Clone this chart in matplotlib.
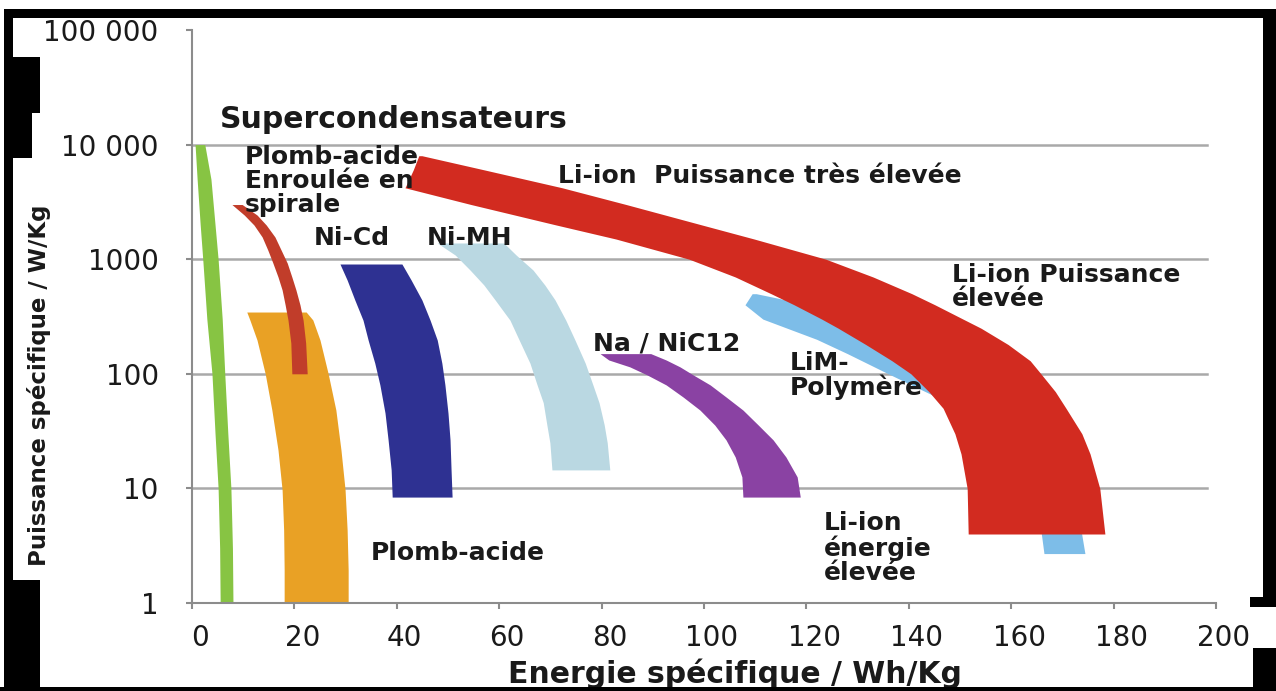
import matplotlib
matplotlib.use("Agg")
import matplotlib.pyplot as plt
from matplotlib.patches import Rectangle
from matplotlib.ticker import NullLocator
from matplotlib.transforms import ScaledTranslation

W, H = 1276, 691

# Ragone bands: power levels (W/kg) and the low / high energy edge (Wh/kg) at each level
supercap_p = [10000, 5000, 2000, 1000, 300, 100, 30, 10, 3, 1]
supercap_lo = [0.6, 1.0, 1.6, 2.1, 2.9, 3.9, 4.5, 5.1, 5.4, 5.5]
supercap_hi = [2.5, 3.7, 4.5, 5.1, 5.9, 6.4, 7.0, 7.6, 7.9, 8.0]

spiral_p = [3000, 2430, 1988, 1563, 1203, 926, 700, 539, 398, 294, 186, 100]
spiral_lo = [7.8, 10.2, 12.1, 13.7, 14.8, 15.8, 16.8, 17.6, 18.2, 18.75, 19.3, 19.5]
spiral_hi = [9.8, 12.7, 14.5, 16.2, 17.4, 18.6, 19.5, 20.3, 21.1, 21.7, 22.2, 22.5]

lead_p = [346, 295, 197, 100, 48.3, 21.6, 9.7, 4.34, 1.94, 1]
lead_lo = [10.7, 11.3, 12.7, 14.3, 15.6, 16.8, 17.6, 17.9, 18.0, 18.0]
lead_hi = [22.3, 23.6, 25.0, 26.6, 28.1, 29.1, 29.9, 30.3, 30.5, 30.5]

nicd_p = [908, 658, 441, 294, 197, 124, 80, 45.5, 26.5, 14.5, 8.4]
nicd_lo = [28.9, 30.3, 31.8, 33.4, 34.4, 35.7, 36.7, 37.7, 38.3, 38.9, 39.1]
nicd_hi = [41.0, 42.8, 44.9, 46.5, 47.9, 48.8, 49.4, 50.0, 50.4, 50.6, 50.8]

nimh_p = [1385, 1088, 805, 596, 441, 294, 197, 124, 80, 56, 36, 25, 14.5]
nimh_lo = [47.9, 51.4, 54.3, 57.0, 59.2, 62.1, 63.9, 66.0, 67.4, 68.6, 69.3, 69.9, 70.3]
nimh_hi = [60.9, 63.3, 66.6, 68.9, 70.9, 73.0, 74.8, 76.8, 78.3, 79.5, 80.5, 81.1, 81.6]

nanicl_p = [150, 132, 115, 97.7, 80, 62.8, 48.3, 35.7, 26.5, 18.8, 12.6, 8.4]
nanicl_lo = [79.7, 81.4, 85.5, 88.9, 92.6, 95.9, 99.2, 102.1, 104.3, 106.1, 107.4, 107.6]
nanicl_hi = [89.6, 92.6, 95.3, 97.9, 101.2, 104.3, 107.6, 110.6, 113.5, 116.0, 118.2, 118.8]

limpoly_p = [500, 400, 300, 200, 150, 100, 50, 20, 10, 5, 2.7]
limpoly_lo = [109.4, 108.0, 111.5, 122.0, 128.0, 136.0, 150.0, 157.8, 162.7, 165.6, 166.4]
limpoly_hi = [110.2, 120.7, 128.3, 137.7, 143.0, 148.0, 157.8, 165.6, 170.5, 173.4, 174.4]

liion_p = [8000, 6000, 4200, 3000, 2000, 1500, 1000, 700, 500, 400, 300, 250, 180, 130,
           100, 70, 50, 30, 20, 10, 4]
liion_lo = [44.3, 43.2, 41.6, 54.5, 70.9, 82.8, 97.1, 106.1, 113.1, 117.6, 123.0, 126.2,
            131.6, 136.7, 140.4, 143.9, 146.7, 149.0, 150.2, 151.4, 151.6]
liion_hi = [44.9, 57.2, 72.3, 84.8, 99.4, 109.8, 123.8, 133.0, 140.6, 145.1, 150.6, 154.1,
            159.4, 163.7, 165.8, 168.6, 170.7, 173.8, 175.4, 177.3, 178.3]

x_ticks = list(range(0, 201, 20))
y_ticks = [1, 10, 100, 1000, 10000, 100000]
y_tick_labels = ["1", "10", "100", "1000", "10 000", "100 000"]

bands = [
    (supercap_p, supercap_lo, supercap_hi, "#87c443"),
    (lead_p, lead_lo, lead_hi, "#e9a125"),
    (spiral_p, spiral_lo, spiral_hi, "#c13d2a"),
    (nicd_p, nicd_lo, nicd_hi, "#2e3192"),
    (nimh_p, nimh_lo, nimh_hi, "#bad8e2"),
    (nanicl_p, nanicl_lo, nanicl_hi, "#8a42a3"),
    (limpoly_p, limpoly_lo, limpoly_hi, "#7dbde8"),
    (liion_p, liion_lo, liion_hi, "#d22b20"),
]

fig = plt.figure(figsize=(W / 100, H / 100), dpi=100)
fig.patch.set_facecolor("white")
ax = fig.add_axes([192 / W, 1 - 603 / H, 1024 / W, 573 / H])
ax.set_yscale("log")
ax.set_xlim(0, 200)
ax.set_ylim(1, 100000)

for i, (p, lo, hi, color) in enumerate(bands):
    ax.fill_betweenx(p, lo, hi, color=color, lw=0, zorder=2 + i * 0.1)

ax.set_xticks(x_ticks)
ax.set_yticks(y_ticks)
ax.set_yticklabels(y_tick_labels)
ax.yaxis.set_minor_locator(NullLocator())
ax.tick_params(direction="out", length=4, width=1.5, color="#8c8c8c",
               labelsize=20, labelcolor="#1a1a1a")
ax.tick_params(axis="y", pad=20)
ax.tick_params(axis="x", pad=11)
for lab in ax.get_xticklabels():
    lab.set_transform(lab.get_transform() + ScaledTranslation(0.08, 0, fig.dpi_scale_trans))

# horizontal guides at the inner decades, stopping just short of the right end
for yv in y_ticks[1:-1]:
    ax.axhline(yv, xmax=0.991, color="#a9a9a9", lw=1.8, zorder=1)
for side in ("top", "right"):
    ax.spines[side].set_visible(False)
for side in ("left", "bottom"):
    ax.spines[side].set_color("#8c8c8c")
    ax.spines[side].set_linewidth(1.5)

ax.set_xlabel("Energie spécifique / Wh/Kg", fontsize=21.5, fontweight="bold", color="#1a1a1a")
ax.xaxis.set_label_coords(0.530, -0.1230)
ax.xaxis.label.set_verticalalignment("center")
ax.set_ylabel("Puissance spécifique / W/Kg", fontsize=16.5, fontweight="bold", color="#1a1a1a")
ax.yaxis.set_label_coords(-0.138, 0.380)

# band names
lab_kw = dict(fontsize=18, fontweight="bold", color="#1a1a1a", ha="left", va="center",
              zorder=5, linespacing=1.0)
ax.text(5.5, 16700, "Supercondensateurs", **{**lab_kw, "fontsize": 21.5})
ax.text(10.4, 4810, "Plomb-acide\nEnroulée en\nspirale", **lab_kw)
ax.text(23.8, 1530, "Ni-Cd", **lab_kw)
ax.text(45.9, 1530, "Ni-MH", **lab_kw)
ax.text(71.5, 5320, "Li-ion  Puissance très élevée", **lab_kw)
ax.text(148.4, 572, "Li-ion Puissance\nélevée", **lab_kw)
ax.text(78.3, 182, "Na / NiC12", **lab_kw)
ax.text(116.8, 96.7, "LiM-\nPolymère", **lab_kw)
ax.text(123.4, 3.02, "Li-ion\nénergie\nélevée", **lab_kw)
ax.text(35.0, 2.73, "Plomb-acide", **lab_kw)


def frame_block(x0, y0, x1, y1):
    # pixel box, origin at the top-left corner of the figure
    fig.add_artist(Rectangle((x0 / W, 1 - y1 / H), (x1 - x0) / W, (y1 - y0) / H,
                             transform=fig.transFigure, facecolor="black", lw=0, zorder=10))


frame_block(4, 9, 1276, 18)
frame_block(4, 9, 13, 691)
frame_block(4, 57, 40, 113)
frame_block(4, 113, 32, 158)
frame_block(4, 580, 40, 691)
frame_block(0, 687, 1276, 691)
frame_block(1263, 9, 1276, 598)
frame_block(1250, 597, 1276, 607)
frame_block(1253, 648, 1276, 691)

fig.savefig("out.png", dpi=100, facecolor="white")
